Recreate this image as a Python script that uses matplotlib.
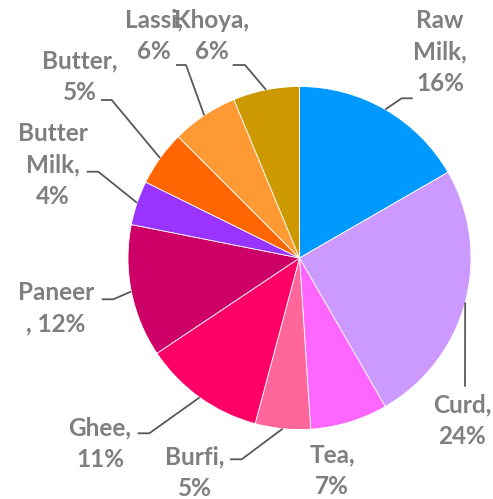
import numpy as np
import matplotlib
matplotlib.use("Agg")
import matplotlib.pyplot as plt

# --- data ---
categories = ["Raw Milk", "Curd", "Tea", "Burfi", "Ghee", "Paneer",
              "Butter Milk", "Butter", "Lassi", "Khoya"]
values = [16, 24, 7, 5, 11, 12, 4, 5, 6, 6]
colors = ["#0099FF", "#CC99FF", "#FF66FF", "#FF6699", "#FF0066", "#CC0066",
          "#9933FF", "#FF6600", "#FF9933", "#CC9900"]

# how Excel wrapped each data label
label_text = {
    "Raw Milk": "Raw\nMilk,\n{}%",
    "Butter Milk": "Butter\nMilk,\n{}%",
    "Paneer": "Paneer\n, {}%",
}

# layout in pixels (y measured from the top): text centre, leader elbow, leader end
W, H = 493, 499
center = (299.5, 258)
radius = 171.5
label_pos = {
    "Raw Milk": (440, 52), "Curd": (462, 421), "Tea": (332, 471),
    "Burfi": (195, 473), "Ghee": (100, 444), "Paneer": (56, 308),
    "Butter Milk": (53, 165), "Butter": (80, 77), "Lassi": (154, 36),
    "Khoya": (212, 36),
}
leader = {
    "Raw Milk": [(401.7, 98.3), (412.7, 98.3)],
    "Curd": [(465, 386.7)],
    "Burfi": [(241.7, 459.3), (230, 459.3)],
    "Ghee": [(149.3, 433.3), (137.7, 433.3)],
    "Paneer": [(113.3, 299.3), (101.7, 299.3)],
    "Butter Milk": [(98.3, 171.7), (86.7, 171.7)],
    "Butter": [(111.7, 100), (101, 100)],
    "Lassi": [(186, 65), (176, 65)],
    "Khoya": [(245, 65), (232.7, 65)],
}

fig = plt.figure(figsize=(W / 100, H / 100), dpi=100)
ax = fig.add_axes([0, 0, 1, 1])

wedges, _ = ax.pie(values, colors=colors, startangle=90, counterclock=False,
                   center=(center[0], H - center[1]), radius=radius,
                   wedgeprops=dict(edgecolor="white", linewidth=0.6),
                   frame=True)
ax.set_xlim(0, W)
ax.set_ylim(0, H)
ax.set_aspect("equal")
ax.axis("off")

text_kw = dict(color="#7F7F7F", fontsize=17.5, fontweight="bold",
               family=["Lato", "DejaVu Sans"], ha="center", va="center",
               linespacing=1.45)

for cat, v, w in zip(categories, values, wedges):
    mid = np.deg2rad((w.theta1 + w.theta2) / 2)
    ex = center[0] + radius * np.cos(mid)
    ey = center[1] - radius * np.sin(mid)
    if cat in leader:
        pts = [(ex, ey)] + leader[cat]
        ax.plot([p[0] for p in pts], [H - p[1] for p in pts],
                color="#595959", lw=1.3, solid_capstyle="butt")
    fmt = label_text.get(cat, cat + ",\n{}%")
    tx, ty = label_pos[cat]
    ax.text(tx, H - ty, fmt.format(v), zorder=5, **text_kw)

fig.savefig("out.png", dpi=100)
